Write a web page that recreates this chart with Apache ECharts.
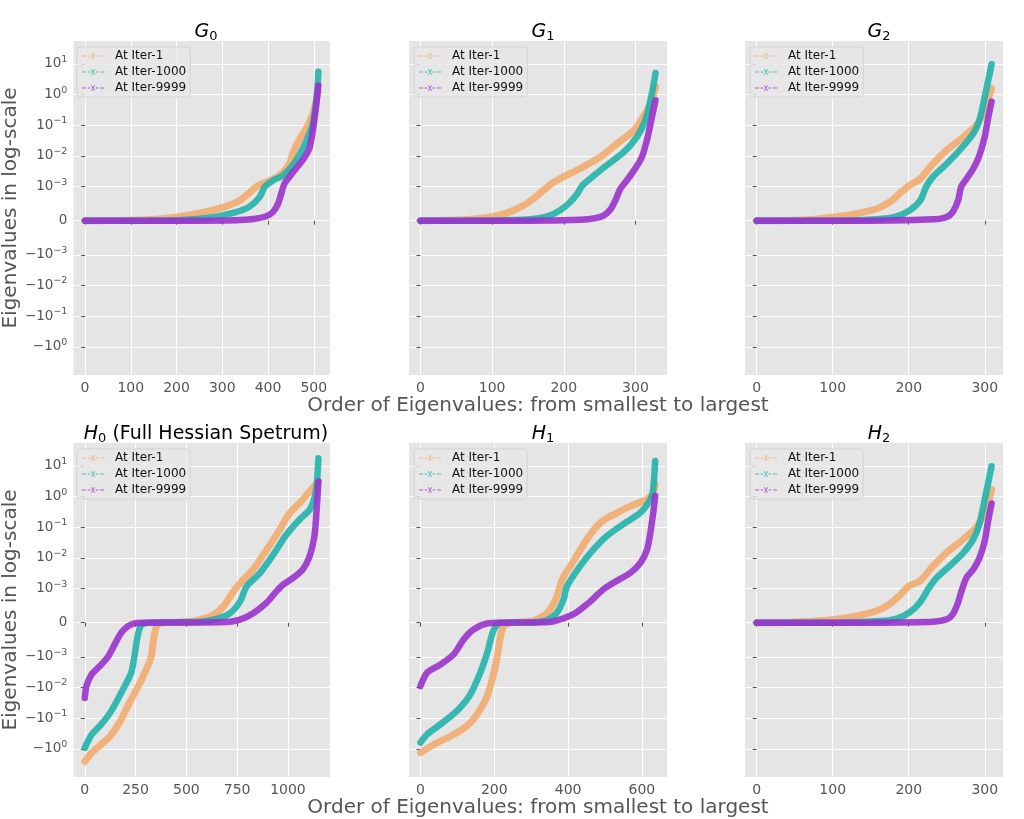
<!DOCTYPE html>
<html><head><meta charset="utf-8">
<script src="https://cdn.jsdelivr.net/npm/echarts/dist/echarts.min.js"></script>
<style>html,body{margin:0;padding:0;background:#fff}#c{width:1024px;height:819px}</style>
</head><body><div id="c"></div><script>
// ---------- data: [order index, eigenvalue] ----------
const SERIES_NAMES = ['At Iter-1', 'At Iter-1000', 'At Iter-9999'];

const G0_iter1 = [[0,0],[50,5e-6],[100,1.5e-5],[145,3.6e-5],[200,1.1e-4],[252,2.3e-4],[303,4e-4],[339,6e-4],[375,1e-3],[396,1.4e-3],[425,2.3e-3],[447,5.6e-3],[454,1.2e-2],[468,3.3e-2],[483,7.7e-2],[497,0.21],[503,0.45],[510,1.2]];
const G0_iter1000 = [[0,0],[100,2e-6],[200,1.5e-5],[267,8e-5],[324,2.3e-4],[360,4.2e-4],[382,7e-4],[393,1e-3],[411,1.6e-3],[432,2.3e-3],[454,5e-3],[468,1.05e-2],[483,2.9e-2],[497,0.1],[504,0.4],[508,1.5],[510,5.6]];
const G0_iter9999 = [[0,0],[200,1e-6],[330,1.5e-5],[368,5e-5],[396,1.3e-4],[411,2.6e-4],[422,5e-4],[429,8e-4],[436,1.25e-3],[447,2.1e-3],[461,3.9e-3],[476,7.4e-3],[490,1.7e-2],[497,5.4e-2],[504,0.31],[510,2.0]];

const G1_iter1 = [[0,0],[51,2e-5],[74,5e-5],[98,1.1e-4],[121,2.3e-4],[144,4.5e-4],[158,6.5e-4],[172,9e-4],[186,1.4e-3],[200,2.1e-3],[223,3.9e-3],[251,9.3e-3],[274,2.5e-2],[298,6.9e-2],[312,0.21],[321,0.51],[328,1.8]];
const G1_iter1000 = [[0,0],[100,5e-6],[153,4e-5],[177,1.3e-4],[195,3.1e-4],[209,5.5e-4],[219,8e-4],[226,1.1e-3],[242,2.3e-3],[260,5e-3],[284,1.35e-2],[302,4.2e-2],[314,0.15],[323,1.1],[328,5.1]];
const G1_iter9999 = [[0,0],[150,2e-6],[223,3e-5],[242,7e-5],[256,1.6e-4],[265,3.3e-4],[272,6e-4],[279,9.4e-4],[286,1.4e-3],[298,3.4e-3],[309,9.3e-3],[316,3.3e-2],[321,0.11],[326,0.4],[328,0.66]];

const G2_iter1 = [[0,0],[40,1e-5],[74,4e-5],[110,1.3e-4],[136,2.3e-4],[158,3.5e-4],[175,5.5e-4],[188,8e-4],[201,1.1e-3],[215,1.8e-3],[232,5.6e-3],[250,1.55e-2],[272,4.2e-2],[289,0.1],[298,0.24],[304,0.66],[309,1.6]];
const G2_iter1000 = [[0,0],[100,3e-6],[162,5e-5],[184,1.3e-4],[201,3e-4],[215,5.9e-4],[223,1e-3],[232,2.1e-3],[250,5.6e-3],[267,1.55e-2],[285,5.4e-2],[293,0.15],[300,0.85],[309,9.8]];
const G2_iter9999 = [[0,0],[150,3e-6],[232,4e-5],[250,1.1e-4],[258,2.6e-4],[265,6e-4],[269,1e-3],[276,1.8e-3],[285,3.9e-3],[293,1.05e-2],[300,4.2e-2],[304,0.15],[309,0.59]];

const H0_iter1 = [[0,-2.6],[33,-1.37],[81,-0.72],[130,-0.35],[179,-0.11],[228,-2.5e-2],[276,-6.3e-3],[325,-1.1e-3],[341,-4e-4],[358,-6e-5],[390,0],[504,3e-5],[569,9e-5],[634,2.3e-4],[683,4.8e-4],[732,9.2e-4],[764,1.5e-3],[829,4.2e-3],[894,1.8e-2],[959,8.3e-2],[1008,0.29],[1057,0.61],[1106,1.47],[1150,3.1]];
const H0_iter1000 = [[0,-0.93],[33,-0.35],[81,-0.16],[130,-5.9e-2],[179,-1.5e-2],[228,-3.4e-3],[244,-1e-3],[260,-4e-4],[276,-9e-5],[309,0],[569,3e-5],[650,1.1e-4],[715,2.8e-4],[764,6.2e-4],[797,1.2e-3],[862,3.2e-3],[927,1.26e-2],[992,5.7e-2],[1057,0.18],[1106,0.37],[1130,0.89],[1142,2.5],[1150,17.8]];
const H0_iter9999 = [[0,-2.2e-2],[8,-9e-3],[33,-3.8e-3],[81,-1.8e-3],[114,-1e-3],[146,-6.5e-4],[179,-3e-4],[211,-1.1e-4],[244,-2e-5],[293,0],[699,2e-5],[764,9e-5],[829,2.8e-4],[894,5.8e-4],[943,9.2e-4],[976,1.35e-3],[1024,2.2e-3],[1073,4.2e-3],[1106,1.1e-2],[1130,5e-2],[1138,0.18],[1150,3.1]];

const H1_iter1 = [[0,-1.35],[36,-0.72],[81,-0.39],[126,-0.18],[153,-7.6e-2],[181,-1.9e-2],[199,-3.3e-3],[208,-1e-3],[217,-4e-4],[226,-1e-4],[244,0],[280,2e-5],[307,6e-5],[334,2e-4],[352,4e-4],[370,7.8e-4],[384,2e-3],[415,8e-3],[451,4.1e-2],[487,0.14],[523,0.26],[569,0.49],[614,0.82],[630,1.3],[636,2.5]];
const H1_iter1000 = [[0,-0.63],[18,-0.34],[54,-0.16],[99,-5.8e-2],[135,-1.7e-2],[162,-3.3e-3],[181,-8.8e-4],[190,-5e-4],[199,-2e-4],[217,0],[300,1e-5],[343,8e-5],[370,3e-4],[388,6.9e-4],[397,1.2e-3],[433,5.5e-3],[469,1.9e-2],[505,5.2e-2],[551,0.13],[596,0.3],[623,0.82],[630,1.5],[636,14.5]];
const H1_iter9999 = [[0,-9e-3],[18,-3.3e-3],[54,-1.8e-3],[90,-9.3e-4],[117,-4.9e-4],[144,-2e-4],[181,-2e-5],[220,0],[320,1e-5],[361,4e-5],[415,2.5e-4],[451,5.4e-4],[496,9.8e-4],[523,1.55e-3],[569,3.3e-3],[596,6.9e-3],[614,1.9e-2],[623,6.7e-2],[632,0.39],[636,1.05]];

const H2_iter1 = [[0,0],[40,1e-5],[74,4e-5],[110,1.2e-4],[136,2.2e-4],[158,3.5e-4],[175,5.5e-4],[188,8e-4],[201,1.25e-3],[215,1.8e-3],[232,5.5e-3],[250,1.5e-2],[272,4.1e-2],[289,0.1],[298,0.24],[304,0.56],[309,1.7]];
const H2_iter1000 = [[0,0],[100,3e-6],[162,5e-5],[184,1.2e-4],[201,3e-4],[215,6e-4],[226,1e-3],[237,2.3e-3],[254,5.5e-3],[272,1.5e-2],[285,4.1e-2],[293,0.13],[300,0.82],[309,9.8]];
const H2_iter9999 = [[0,0],[150,3e-6],[232,3e-5],[250,1e-4],[258,2.5e-4],[265,6e-4],[269,9e-4],[276,2.3e-3],[285,4.3e-3],[293,1e-2],[300,3.6e-2],[304,0.14],[309,0.6]];

// tick labels
const Y_TICKS = [10, 1, 0.1, 0.01, 0.001, 0, -0.001, -0.01, -0.1, -1];
const X_TICKS_G0 = [0, 100, 200, 300, 400, 500];
const X_TICKS_G1 = [0, 100, 200, 300];
const X_TICKS_G2 = [0, 100, 200, 300];
const X_TICKS_H0 = [0, 250, 500, 750, 1000];
const X_TICKS_H1 = [0, 200, 400, 600];
const X_TICKS_H2 = [0, 100, 200, 300];

// ---------- symlog transform (linthresh 1e-3, linscale 1, base 10) ----------
const LINTHRESH = 1e-3, LINSCALE_ADJ = 1 / (1 - 1 / 10);
function symlog(v) {
  const a = Math.abs(v);
  if (a <= LINTHRESH) return v / LINTHRESH * LINSCALE_ADJ;
  return Math.sign(v) * (LINSCALE_ADJ + Math.log10(a / LINTHRESH));
}
const Y_TICK_POS = Y_TICKS.map(symlog);
function yLabel(val) {
  let best = 0, bd = 1e9;
  Y_TICK_POS.forEach((p, i) => { const d = Math.abs(p - val); if (d < bd) { bd = d; best = i; } });
  const v = Y_TICKS[best];
  if (v === 0) return '{b|0}';
  const e = Math.round(Math.log10(Math.abs(v)));
  const es = e < 0 ? '\u2212' + (-e) : String(e);
  return '{b|' + (v < 0 ? '\u221210' : '10') + '}{s|' + es + '}';
}

// ---------- layout ----------
const FONT = 'DejaVu Sans';
const COLORS = ['#F4A460', '#20B2AA', '#9932CC'];
const COL_LEFT = [72, 409, 745];
const ROW_TOP = [41, 443];
const PW = 258, PH = 334;
const YMIN = -5.03, YMAX = 5.86;

const panels = [
  { title: '{i|G}{s|0}', data: [G0_iter1, G0_iter1000, G0_iter9999], xr: [-25.5, 535.5], xt: X_TICKS_G0 },
  { title: '{i|G}{s|1}', data: [G1_iter1, G1_iter1000, G1_iter9999], xr: [-16, 344], xt: X_TICKS_G1 },
  { title: '{i|G}{s|2}', data: [G2_iter1, G2_iter1000, G2_iter9999], xr: [-15.4, 324], xt: X_TICKS_G2 },
  { title: '{i|H}{s|0}{n| (Full Hessian Spetrum)}', data: [H0_iter1, H0_iter1000, H0_iter9999], xr: [-56, 1207], xt: X_TICKS_H0 },
  { title: '{i|H}{s|1}', data: [H1_iter1, H1_iter1000, H1_iter9999], xr: [-31, 668], xt: X_TICKS_H1 },
  { title: '{i|H}{s|2}', data: [H2_iter1, H2_iter1000, H2_iter9999], xr: [-15.4, 324], xt: X_TICKS_H2 },
];

const ICON = 'path://M0,4.4h4.5v1.2h-4.5z M6.5,4.4h3v1.2h-3z M15.5,4.4h3v1.2h-3z M20.5,4.4h4.5v1.2h-4.5z M10,2L11.2,2L15,8L13.8,8Z M13.8,2L15,2L11.2,8L10,8Z';

const grid = [], xAxis = [], yAxis = [], series = [], title = [], legend = [];
panels.forEach((p, i) => {
  const r = Math.floor(i / 3), c = i % 3;
  const L = COL_LEFT[c], T = ROW_TOP[r];
  grid.push({ left: L, top: T, width: PW, height: PH, show: true, backgroundColor: '#E5E5E5', borderWidth: 0, containLabel: false });
  xAxis.push({
    type: 'value', gridIndex: i, min: p.xr[0], max: p.xr[1],
    axisLine: { show: false },
    axisTick: { show: true, length: 4, lineStyle: { color: '#555' }, customValues: p.xt },
    axisLabel: { customValues: p.xt, formatter: v => String(Math.round(v)), color: '#555', fontSize: 14, fontFamily: FONT, margin: 6 },
    splitLine: { show: true, lineStyle: { color: '#fff', width: 1 } },
    name: c === 1 ? 'Order of Eigenvalues: from smallest to largest' : '',
    nameLocation: 'middle', nameGap: 15,
    nameTextStyle: { fontSize: 20, color: '#555', fontFamily: FONT }
  });
  yAxis.push({
    type: 'value', gridIndex: i, min: YMIN, max: YMAX,
    axisLine: { show: false },
    axisTick: { show: true, length: 4, lineStyle: { color: '#555' }, customValues: Y_TICK_POS },
    axisLabel: {
      show: c === 0, customValues: Y_TICK_POS, formatter: yLabel, margin: 6,
      rich: {
        b: { fontSize: 13.5, color: '#555', fontFamily: FONT },
        s: { fontSize: 9.5, color: '#555', fontFamily: FONT, padding: [0, 0, 9, 0] }
      }
    },
    splitLine: { show: true, lineStyle: { color: '#fff', width: 1 } },
    name: c === 0 ? 'Eigenvalues in log-scale' : '',
    nameLocation: 'middle', nameGap: 45, nameRotate: 90,
    nameTextStyle: { fontSize: 20, color: '#555', fontFamily: FONT }
  });
  title.push({
    text: p.title, left: L + PW / 2, top: T - 25, textAlign: 'center',
    textStyle: {
      fontWeight: 'normal',
      rich: {
        i: { fontSize: 19, fontStyle: 'italic', fontWeight: 'normal', color: '#000', fontFamily: FONT },
        s: { fontSize: 13, fontWeight: 'normal', color: '#000', fontFamily: FONT, padding: [9, 0, 0, 0] },
        n: { fontSize: 19, fontWeight: 'normal', color: '#000', fontFamily: FONT }
      }
    }
  });
  legend.push({
    data: SERIES_NAMES, orient: 'vertical', left: L + 5, top: T + 6,
    icon: ICON, itemWidth: 22, itemHeight: 8, itemGap: 4, selectedMode: false,
    backgroundColor: 'rgba(232,232,232,0.85)', borderColor: 'rgba(210,210,210,0.9)', borderWidth: 1, borderRadius: 3,
    padding: [3, 4, 3, 5],
    itemStyle: { opacity: 0.75 },
    textStyle: { fontSize: 12, color: '#111', fontFamily: FONT, padding: [0, 0, 0, 6] }
  });
  p.data.forEach((d, k) => {
    series.push({
      type: 'line', name: SERIES_NAMES[k], xAxisIndex: i, yAxisIndex: i,
      data: d.map(pt => [pt[0], symlog(pt[1])]),
      showSymbol: false, smooth: 0.25, silent: true,
      itemStyle: { color: COLORS[k] },
      lineStyle: { width: k === 0 ? 7 : 6.5, color: COLORS[k], opacity: k === 0 ? 0.8 : 0.9, cap: 'round', join: 'round' },
      z: 2 + k
    });
  });
});

const chart = echarts.init(document.getElementById('c'), null, { renderer: 'canvas' });
chart.setOption({ animation: false, backgroundColor: '#fff', grid, xAxis, yAxis, series, title, legend });
</script></body></html>
